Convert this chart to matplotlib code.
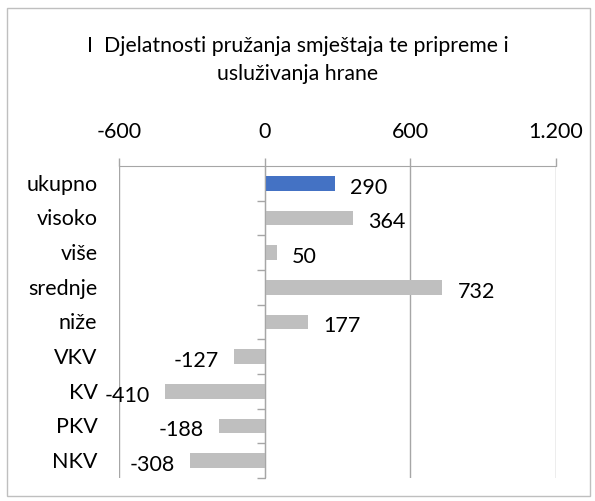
import matplotlib.pyplot as plt
import numpy as np
from matplotlib.patches import Rectangle
from matplotlib.ticker import FuncFormatter, FixedLocator

plt.rcParams['font.family'] = ['Lato', 'DejaVu Sans']

title = "I  Djelatnosti pružanja smještaja te pripreme i\nusluživanja hrane"
categories = ["ukupno", "visoko", "više", "srednje", "niže", "VKV", "KV", "PKV", "NKV"]
values = [290, 364, 50, 732, 177, -127, -410, -188, -308]
colors = ["#4472C4"] + ["#BFBFBF"] * 8
xticks = [-600, 0, 600, 1200]

fig = plt.figure(figsize=(5.95, 5.01), dpi=100)
ax = fig.add_axes([119/595, 1 - 478/501, (556-119)/595, (478-166)/501])

y = np.arange(len(categories))
ax.barh(y, values, height=0.42, color=colors, zorder=3)

ax.set_xlim(-600, 1200)
ax.set_ylim(len(categories) - 0.5, -0.5)

grid_c = "#A6A6A6"
fs = 15.5
ax.xaxis.tick_top()
ax.xaxis.set_major_locator(FixedLocator(xticks))
ax.xaxis.set_major_formatter(FuncFormatter(lambda v, p: f"{v:,.0f}".replace(",", ".")))
ax.tick_params(axis="x", direction="out", length=6, width=1, color=grid_c,
               labelsize=fs, pad=11)
ax.grid(axis="x", color=grid_c, linewidth=1, zorder=0)

for s in ["right", "bottom"]:
    ax.spines[s].set_visible(False)
ax.spines["top"].set_color(grid_c)

# vertical axis at zero, ticks between categories
ax.spines["left"].set_position(("data", 0))
ax.spines["left"].set_color(grid_c)
ax.spines["left"].set_zorder(4)
ax.set_yticks(np.arange(0.5, len(categories), 1.0))
ax.tick_params(axis="y", direction="out", length=6, width=1, color=grid_c, labelleft=False)

for yi, cat in zip(y, categories):
    ax.annotate(cat, xy=(0, yi), xycoords=("axes fraction", "data"), xytext=(-15.5, -1),
                textcoords="offset points", ha="right", va="center", fontsize=fs)

for yi, v in zip(y, values):
    off = 11 if v >= 0 else -11
    ax.annotate(f"{v}", xy=(v, yi), xytext=(off, -3), textcoords="offset points",
                ha="left" if v >= 0 else "right", va="center", fontsize=fs, zorder=5)

fig.text(0.5, 1 - 60/501, title, ha="center", va="center", fontsize=15.3, linespacing=1.45)

fig.patches.append(Rectangle((7/595, 1 - 496/501), 583/595, 488/501, transform=fig.transFigure,
                             fill=False, edgecolor="#BFBFBF", linewidth=1))

fig.savefig("out.png", dpi=100)
